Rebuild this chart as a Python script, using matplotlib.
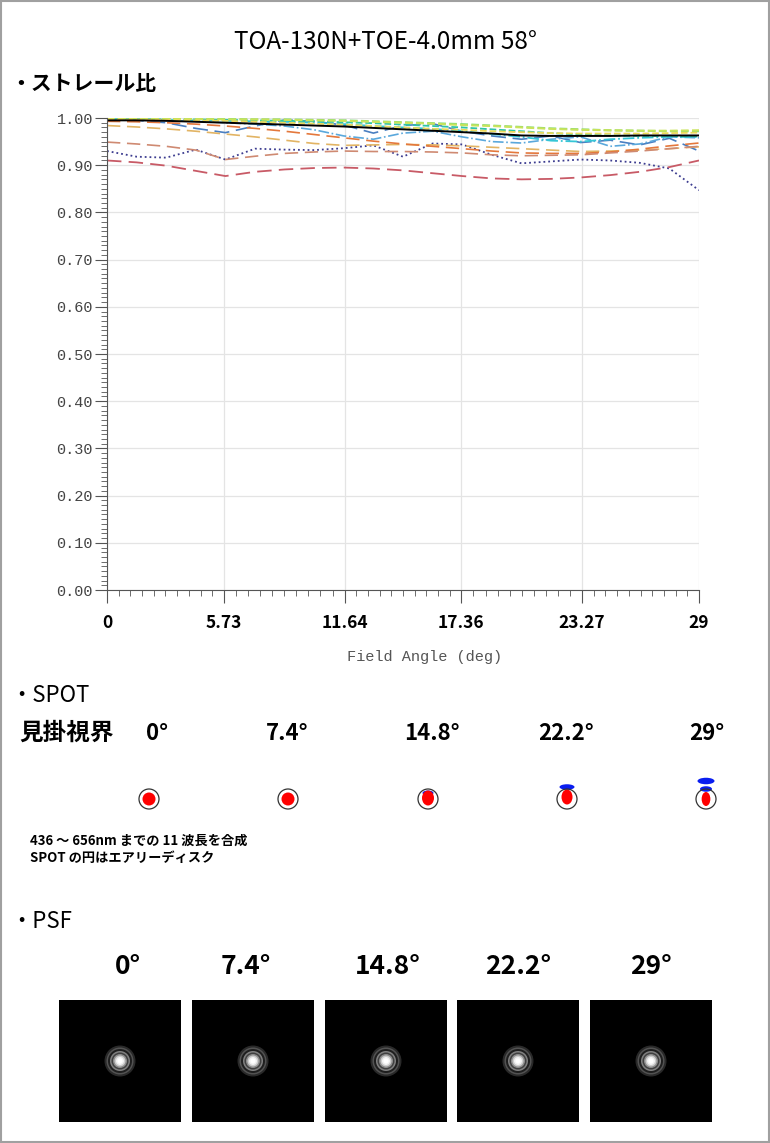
import numpy as np
import matplotlib.pyplot as plt
from matplotlib.patches import Circle, Ellipse, Rectangle

plt.rcParams['font.family'] = ['Noto Sans CJK JP', 'DejaVu Sans']

# ストレール比 data
field = [0, 1.45, 2.9, 4.35, 5.8, 7.25, 8.7, 10.15, 11.6, 13.05, 14.5,
         15.95, 17.4, 18.85, 20.3, 21.75, 23.2, 24.65, 26.1, 27.55, 29]
x_ticks = [0, 5.73, 11.64, 17.36, 23.27, 29]
x_ticklabels = ['0', '5.73', '11.64', '17.36', '23.27', '29']

poly = [0.995, 0.995, 0.994, 0.992, 0.990, 0.988, 0.986, 0.984, 0.982, 0.979, 0.976,
        0.973, 0.970, 0.967, 0.963, 0.962, 0.962, 0.962, 0.963, 0.963, 0.963]
w436 = [0.930, 0.918, 0.916, 0.933, 0.912, 0.935, 0.933, 0.932, 0.936, 0.942, 0.918,
        0.946, 0.944, 0.922, 0.904, 0.908, 0.912, 0.910, 0.905, 0.893, 0.847]
w450 = [0.996, 0.995, 0.990, 0.978, 0.969, 0.983, 0.996, 0.993, 0.985, 0.968, 0.984,
        0.988, 0.972, 0.962, 0.955, 0.962, 0.948, 0.953, 0.943, 0.957, 0.930]
w470 = [0.997, 0.996, 0.995, 0.993, 0.990, 0.987, 0.983, 0.975, 0.962, 0.955, 0.968,
        0.972, 0.960, 0.950, 0.947, 0.955, 0.960, 0.940, 0.945, 0.960, 0.958]
w486 = [0.998, 0.997, 0.996, 0.995, 0.994, 0.993, 0.992, 0.990, 0.987, 0.983, 0.980,
        0.977, 0.972, 0.966, 0.960, 0.952, 0.950, 0.955, 0.958, 0.960, 0.960]
w500 = [0.998, 0.998, 0.997, 0.997, 0.996, 0.995, 0.994, 0.993, 0.991, 0.989, 0.986,
        0.983, 0.980, 0.976, 0.972, 0.968, 0.965, 0.963, 0.962, 0.962, 0.961]
w520 = [0.999, 0.999, 0.999, 0.998, 0.998, 0.997, 0.997, 0.996, 0.995, 0.993, 0.991,
        0.989, 0.987, 0.984, 0.981, 0.978, 0.976, 0.974, 0.973, 0.972, 0.972]
w546 = [0.999, 0.999, 0.998, 0.998, 0.997, 0.997, 0.996, 0.995, 0.994, 0.992, 0.990,
        0.988, 0.985, 0.983, 0.980, 0.977, 0.975, 0.974, 0.973, 0.973, 0.974]
w570 = [0.997, 0.997, 0.996, 0.995, 0.994, 0.992, 0.990, 0.988, 0.986, 0.983, 0.980,
        0.977, 0.975, 0.972, 0.970, 0.968, 0.967, 0.967, 0.967, 0.968, 0.969]
w589 = [0.984, 0.981, 0.977, 0.972, 0.966, 0.960, 0.953, 0.946, 0.942, 0.943, 0.944,
        0.943, 0.941, 0.938, 0.935, 0.932, 0.929, 0.930, 0.932, 0.935, 0.939]
w620 = [0.993, 0.992, 0.990, 0.987, 0.983, 0.978, 0.972, 0.965, 0.958, 0.951, 0.945,
        0.940, 0.935, 0.930, 0.926, 0.925, 0.925, 0.928, 0.934, 0.941, 0.947]
w640 = [0.949, 0.945, 0.940, 0.932, 0.912, 0.919, 0.925, 0.928, 0.930, 0.929, 0.929,
        0.928, 0.926, 0.922, 0.920, 0.921, 0.922, 0.926, 0.930, 0.935, 0.940]
w656 = [0.910, 0.906, 0.899, 0.888, 0.877, 0.886, 0.891, 0.894, 0.895, 0.893, 0.889,
        0.883, 0.877, 0.872, 0.870, 0.871, 0.874, 0.879, 0.886, 0.896, 0.910]

# SPOT / PSF
angles = ['0°', '7.4°', '14.8°', '22.2°', '29°']
red_w = [13, 13, 12, 11, 8.7]
red_h = [13, 13, 15, 15, 14]
red_dy = [0, 0, -1, -2, 0]
# (field index, dy, w, h)
blue_spots = [(2, -6, 11, 5), (3, -12, 15, 5.5), (4, -10, 12, 5.5), (4, -18, 17, 6.5)]
psf_r = [15.5, 13.5, 12, 10, 8.5, 7, 5.5, 4, 2.5]
psf_g = [0.16, 0.32, 0.12, 0.50, 0.25, 0.55, 0.80, 0.95, 1.0]

fig = plt.figure(figsize=(7.7, 11.43), dpi=100)

# overlay in pixel coordinates
ov = fig.add_axes([0, 0, 1, 1])
ov.set_xlim(0, 770)
ov.set_ylim(1143, 0)
ov.axis('off')
ov.patch.set_alpha(0)
ov.add_patch(Rectangle((1, 1), 768, 1141, fill=False, ec='#a0a0a0', lw=1.5))

ov.text(385, 42, 'TOA-130N+TOE-4.0mm 58°', fontsize=17.5, ha='center', va='center')
ov.text(10, 83, '・ストレール比', fontsize=15, ha='left', va='center', fontweight='bold')

ov.text(10, 696, '・SPOT', fontsize=16, ha='left', va='center')
ov.text(19, 733, '見掛視界', fontsize=17, ha='left', va='center', fontweight='bold')
spot_x = [149, 288, 428, 567, 706]
label_x = [157, 287, 432, 566, 707]
for i in range(5):
    ov.text(label_x[i], 733, angles[i], fontsize=16, ha='center', va='center', fontweight='bold')
    cx, cy = spot_x[i], 799
    for j, dy, w, h in blue_spots:
        if j == i:
            ov.add_patch(Ellipse((cx, cy + dy), w, h, color='#0a1ef0', lw=0))
    ov.add_patch(Ellipse((cx, cy + red_dy[i]), red_w[i], red_h[i], color='#ff0000', lw=0))
    ov.add_patch(Circle((cx, cy), 10, fill=False, ec='#333333', lw=0.9))
ov.text(30, 841, '436 ～ 656nm までの 11 波長を合成', fontsize=9.5, ha='left', va='center', fontweight='bold')
ov.text(30, 858, 'SPOT の円はエアリーディスク', fontsize=9.5, ha='left', va='center', fontweight='bold')

ov.text(10, 921, '・PSF', fontsize=16, ha='left', va='center')
psf_left = [59, 192, 325, 457, 590]
psf_label_x = [128, 246, 388, 518, 651]
for i in range(5):
    ov.text(psf_label_x[i], 966, angles[i], fontsize=19, ha='center', va='center', fontweight='bold')
    ov.add_patch(Rectangle((psf_left[i], 1000), 122, 122, color='black', lw=0))
    cx, cy = psf_left[i] + 61, 1061
    for r, g in zip(psf_r, psf_g):
        ov.add_patch(Circle((cx, cy), r, color=(g, g, g), lw=0))

# Strehl chart
ax = fig.add_axes([107/770, 1 - 590/1143, 592/770, 472/1143])
ax.plot(field, w436, color='#3d3d90', ls=':', lw=1.3)
ax.plot(field, w450, color='#4a7fc1', ls=(0, (9, 4)), lw=1.2)
ax.plot(field, w470, color='#5aa8dc', ls='-.', lw=1.2)
ax.plot(field, w486, color='#35c6d6', ls='-.', lw=1.3)
ax.plot(field, w500, color='#2ec4a8', ls='--', lw=1.3)
ax.plot(field, w520, color='#86dc78', ls='--', lw=1.5)
ax.plot(field, w546, color='#c9e35a', ls='--', lw=1.5)
ax.plot(field, w570, color='#ecd95a', ls='--', lw=1.3)
ax.plot(field, w589, color='#e2b464', ls=(0, (8, 4)), lw=1.2)
ax.plot(field, w620, color='#e4783c', ls=(0, (8, 4)), lw=1.2)
ax.plot(field, w640, color='#cf8a72', ls=(0, (8, 4)), lw=1.2)
ax.plot(field, w656, color='#c85a66', ls=(0, (8, 4)), lw=1.3)
ax.plot(field, poly, color='black', lw=1.4)

ax.set_xlim(0, 29)
ax.set_ylim(0, 1.0)
ax.set_xticks(x_ticks)
ax.set_xticklabels(x_ticklabels, fontsize=12.5, fontweight='bold')
minor_x = np.concatenate([np.linspace(x_ticks[k], x_ticks[k + 1], 11) for k in range(5)])
ax.set_xticks(minor_x, minor=True)
ax.set_yticks(np.arange(0, 1.01, 0.1))
ax.set_yticklabels(['%.2f' % v for v in np.arange(0, 1.01, 0.1)],
                   family='Liberation Mono', fontsize=11, color='#444444')
ax.set_yticks(np.arange(0, 1.001, 0.01), minor=True)
ax.tick_params(axis='both', which='major', direction='out', length=9, width=0.8, color='#555555')
ax.tick_params(axis='both', which='minor', direction='out', length=4, width=0.6, color='#555555')
ax.tick_params(axis='x', which='major', pad=8)
ax.tick_params(axis='y', which='major', pad=1)
ax.grid(True, which='major', color='#e4e4e4', lw=0.9)
ax.set_axisbelow(True)
for s in ['top', 'right']:
    ax.spines[s].set_visible(False)
ax.spines['left'].set_color('#555555')
ax.spines['bottom'].set_color('#555555')
ax.set_xlabel('Field Angle (deg)', family='Liberation Mono', fontsize=11, color='#555555')
ax.xaxis.set_label_coords(0.537, -0.127)

fig.savefig('out.png', dpi=100)
